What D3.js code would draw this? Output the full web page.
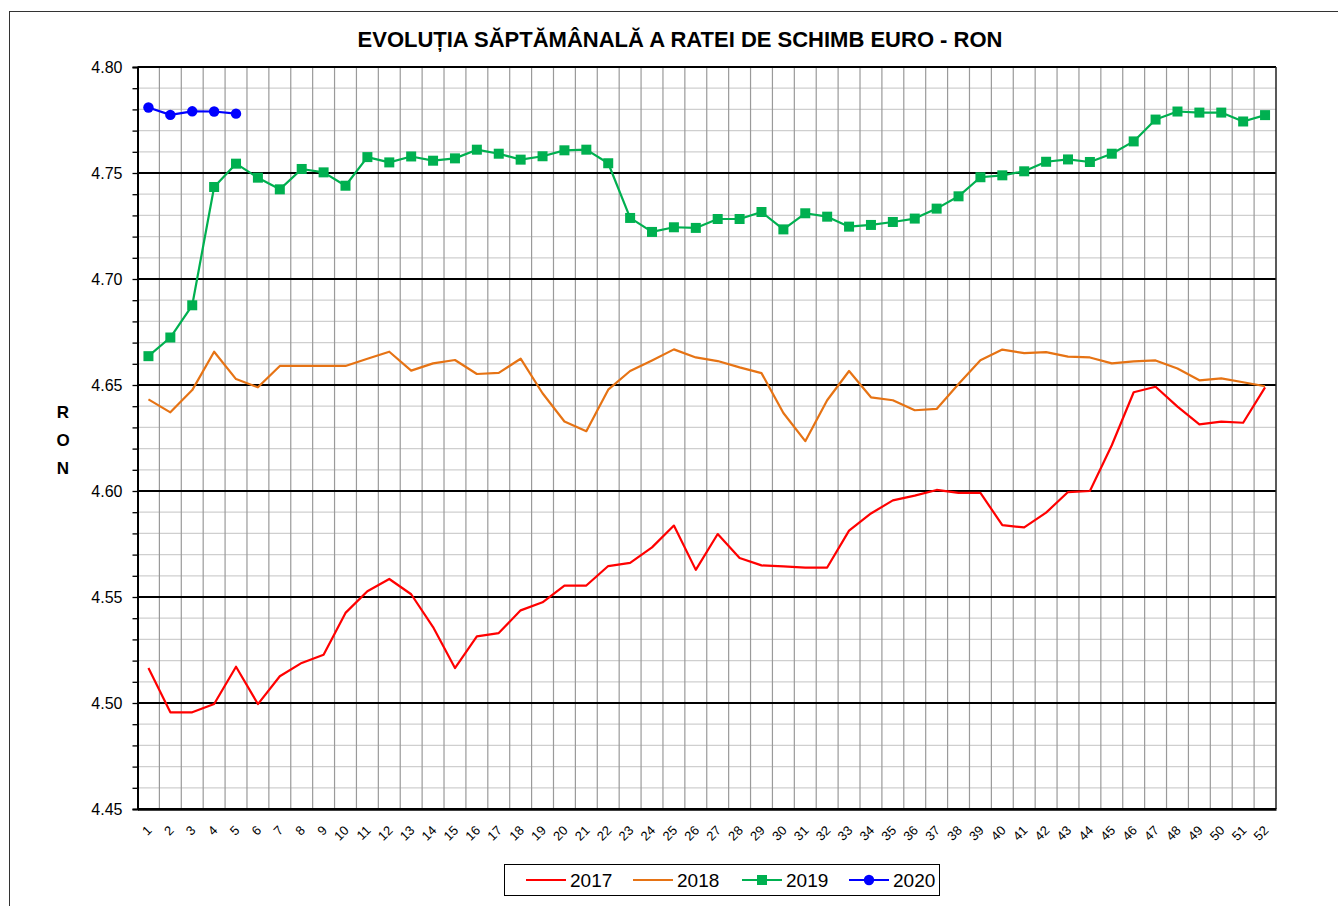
<!DOCTYPE html>
<html><head><meta charset="utf-8">
<script src="https://cdn.jsdelivr.net/npm/d3@7"></script>
<style>body{margin:0;background:#fff;}svg{display:block;font-family:"Liberation Sans",Arial,sans-serif;}</style>
</head><body>
<svg id="c" width="1338" height="906"></svg>
<script>
const weeks = d3.range(1, 53);
const yTickLabels = [4.45, 4.50, 4.55, 4.60, 4.65, 4.70, 4.75, 4.80];
const seriesNames = ["2017", "2018", "2019", "2020"];
const s2017 = [4.5165,4.4956,4.4956,4.4995,4.5171,4.4995,4.5126,4.5189,4.5228,4.5425,
  4.5527,4.5585,4.5513,4.5358,4.5165,4.5314,4.5330,4.5437,4.5475,4.5554,
  4.5554,4.5646,4.5661,4.5734,4.5837,4.5628,4.5797,4.5684,4.5649,4.5644,
  4.5639,4.5639,4.5813,4.5894,4.5956,4.5978,4.6005,4.5991,4.5991,4.5839,
  4.5828,4.5898,4.5995,4.6000,4.6216,4.6466,4.6492,4.6398,4.6314,4.6327,4.6322,4.6489];
const s2018 = [4.6432,4.6371,4.6476,4.6657,4.6528,4.6489,4.6590,4.6590,4.6590,4.6590,
  4.6624,4.6657,4.6568,4.6602,4.6618,4.6552,4.6557,4.6624,4.6461,4.6328,
  4.6282,4.6478,4.6566,4.6616,4.6668,4.6630,4.6613,4.6583,4.6556,4.6368,
  4.6235,4.6428,4.6566,4.6442,4.6428,4.6381,4.6387,4.6505,4.6617,4.6667,
  4.6650,4.6655,4.6634,4.6630,4.6602,4.6611,4.6616,4.6578,4.6522,4.6531,4.6513,4.6494];
const s2019 = [4.6636,4.6724,4.6876,4.7434,4.7544,4.7478,4.7423,4.7519,4.7503,4.7440,
  4.7575,4.7550,4.7578,4.7558,4.7569,4.7610,4.7591,4.7563,4.7579,4.7607,
  4.7610,4.7546,4.7288,4.7222,4.7244,4.7241,4.7283,4.7283,4.7316,4.7234,
  4.7310,4.7294,4.7247,4.7255,4.7269,4.7285,4.7332,4.7390,4.7480,4.7489,
  4.7508,4.7553,4.7564,4.7552,4.7591,4.7649,4.7752,4.7790,4.7785,4.7785,4.7743,4.7773];
const s2020 = [4.7809,4.7774,4.7791,4.7790,4.7780];

const colors = {"2017":"#ff0000","2018":"#e67314","2019":"#00b050","2020":"#0000ff"};
const markers = {"2017":null,"2018":null,"2019":"square","2020":"circle"};
const series = [
  {name:"2017", values:s2017},
  {name:"2018", values:s2018},
  {name:"2019", values:s2019},
  {name:"2020", values:s2020}
];

const svg = d3.select("#c");
const L = 137.5, R = 1276, T = 67, B = 809;
const x = d3.scaleBand().domain(weeks).range([L, R]);
const y = d3.scaleLinear().domain([4.45, 4.80]).range([B, T]);
const cx = w => x(w) + x.bandwidth()/2;

// outer border
svg.append("rect").attr("x", 9.5).attr("y", 11.5).attr("width", 1340).attr("height", 910)
  .attr("fill", "none").attr("stroke", "#333").attr("stroke-width", 1);

// title
svg.append("text").attr("x", 680).attr("y", 47).attr("text-anchor", "middle")
  .attr("font-size", 22).attr("font-weight", "bold").text("EVOLUȚIA SĂPTĂMÂNALĂ A RATEI DE SCHIMB EURO - RON");

// minor horizontal grid
const minorVals = d3.range(0, 36).map(i => +(4.45 + i*0.01).toFixed(2)).filter(v => !yTickLabels.some(t => Math.abs(t - v) < 1e-6));
svg.append("g").selectAll("line").data(minorVals).join("line")
  .attr("x1", L).attr("x2", R).attr("y1", d => y(d)).attr("y2", d => y(d))
  .attr("stroke", "#cfcfcf").attr("stroke-width", 1.3);

// vertical grid
svg.append("g").selectAll("line").data(weeks.slice(1)).join("line")
  .attr("x1", d => x(d)).attr("x2", d => x(d)).attr("y1", T).attr("y2", B)
  .attr("stroke", "#9a9a9a").attr("stroke-width", 1.2);

// major horizontal grid
svg.append("g").selectAll("line").data(yTickLabels).join("line")
  .attr("x1", L).attr("x2", R).attr("y1", d => y(d)).attr("y2", d => y(d))
  .attr("stroke", "#000").attr("stroke-width", 2);

// right border
svg.append("line").attr("x1", R).attr("x2", R).attr("y1", T).attr("y2", B).attr("stroke", "#222").attr("stroke-width", 1.5);

// y axis
const yAxis = d3.axisLeft(y).tickValues(yTickLabels).tickFormat(d3.format(".2f")).tickSize(5).tickPadding(10);
const gy = svg.append("g").attr("transform", `translate(${L},0)`).call(yAxis);
gy.select(".domain").attr("stroke", "#000").attr("stroke-width", 2);
gy.selectAll(".tick line").attr("stroke", "#000").attr("stroke-width", 1.3);
gy.selectAll(".tick text").attr("font-size", 16).attr("fill", "#000").attr("font-family", '"Liberation Sans",Arial,sans-serif');
const gyMinor = svg.append("g").attr("transform", `translate(${L},0)`)
  .call(d3.axisLeft(y).tickValues(minorVals).tickFormat("").tickSize(5));
gyMinor.select(".domain").remove();
gyMinor.selectAll(".tick line").attr("stroke", "#000").attr("stroke-width", 1.3);

// x axis
const gx = svg.append("g").attr("transform", `translate(0,${B})`)
  .call(d3.axisBottom(x).tickSize(0).tickPadding(0));
gx.select(".domain").attr("stroke", "#000").attr("stroke-width", 2.5);
gx.selectAll(".tick text").attr("font-size", 13).attr("fill", "#000")
  .attr("font-family", '"Liberation Sans",Arial,sans-serif')
  .attr("text-anchor", "end").attr("dy", "0.35em")
  .attr("transform", "translate(1,19) rotate(-45)");

// y axis title R O N
const ron = ["R","O","N"];
svg.append("g").selectAll("text").data(ron).join("text")
  .attr("x", 63).attr("y", (d,i) => 418 + i*28).attr("text-anchor", "middle")
  .attr("font-size", 17).attr("font-weight", "bold").text(d => d);

// lines
const line = d3.line().x((d,i) => cx(weeks[i])).y(d => y(d));
series.forEach(s => {
  svg.append("path").datum(s.values).attr("d", line).attr("fill", "none")
    .attr("stroke", colors[s.name]).attr("stroke-width", 2.2).attr("stroke-linejoin", "round");
  if (markers[s.name] === "square") {
    svg.append("g").selectAll("rect").data(s.values).join("rect")
      .attr("x", (d,i) => cx(weeks[i]) - 5).attr("y", d => y(d) - 5)
      .attr("width", 10).attr("height", 10).attr("fill", colors[s.name]);
  } else if (markers[s.name] === "circle") {
    svg.append("g").selectAll("circle").data(s.values).join("circle")
      .attr("cx", (d,i) => cx(weeks[i])).attr("cy", d => y(d)).attr("r", 5.2)
      .attr("fill", colors[s.name]);
  }
});

// legend
const lg = svg.append("g");
lg.append("rect").attr("x", 504.5).attr("y", 864.5).attr("width", 435).attr("height", 31)
  .attr("fill", "#fff").attr("stroke", "#000").attr("stroke-width", 1);
const legendX = [526, 633, 742, 849];
series.forEach((s, i) => {
  const g = lg.append("g").attr("transform", `translate(${legendX[i]},880)`);
  g.append("line").attr("x1", 0).attr("x2", 40).attr("y1", 0).attr("y2", 0)
    .attr("stroke", colors[s.name]).attr("stroke-width", 2.2);
  if (markers[s.name] === "square") g.append("rect").attr("x", 15).attr("y", -5).attr("width", 10).attr("height", 10).attr("fill", colors[s.name]);
  if (markers[s.name] === "circle") g.append("circle").attr("cx", 20).attr("cy", 0).attr("r", 5.2).attr("fill", colors[s.name]);
  g.append("text").attr("x", 44).attr("y", 7).attr("font-size", 19).attr("fill", "#000").text(s.name);
});
</script>
</body></html>
